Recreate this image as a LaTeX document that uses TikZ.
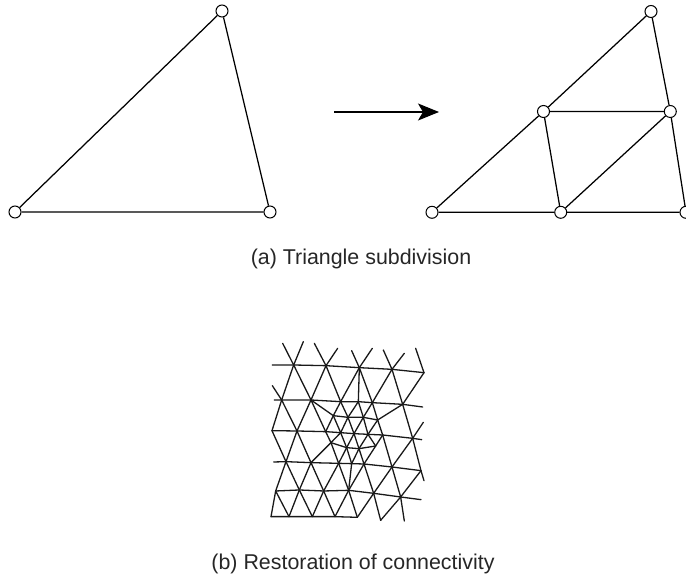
\documentclass[tikz,border=0pt]{standalone}
\usepackage{fontspec}
\setmainfont{Liberation Sans}
\usetikzlibrary{arrows.meta}
\tikzset{
  vtx/.style={circle,draw=black,fill=white,line width=1pt,minimum size=12pt,inner sep=0pt},
  triedge/.style={draw=black,line width=1.25pt},
  meshline/.style={draw=black!90,line width=1.3pt,line cap=round,line join=round},
  captext/.style={font=\fontsize{21.4pt}{24pt}\selectfont,text=black!85,inner sep=0pt},
}
\begin{document}
\begin{tikzpicture}[x=1pt,y=-1pt]
\useasboundingbox (0,0) rectangle (686,575);
% left triangle
\node[vtx] (lt) at (222,11) {};
\node[vtx] (ll) at (15,212) {};
\node[vtx] (lr) at (270,212) {};
\draw[triedge] (lt)--(ll) (ll)--(lr) (lr)--(lt);
% arrow
\coordinate (as) at (334,112);
\coordinate (ae) at (439,112);
\draw[draw=black,line width=1.05pt,-{Stealth[length=21pt,width=17pt,inset=5pt]}] (as)--(ae);
% right triangle
\node[vtx] (rt) at (651,11.5) {};
\node[vtx] (rml) at (543.5,111.5) {};
\node[vtx] (rmr) at (670.3,111.5) {};
\node[vtx] (rl) at (432,212.3) {};
\node[vtx] (rm) at (560.7,212.3) {};
\node[vtx] (rr) at (686,212.3) {};
\draw[triedge] (rt)--(rml) (rml)--(rl) (rl)--(rm) (rm)--(rr) (rr)--(rmr) (rmr)--(rt)
  (rml)--(rmr) (rml)--(rm) (rm)--(rmr);
\node[captext] (capa) at (361,258.5) {(a) Triangle subdivision};
\node[captext] (capb) at (353,564) {(b) Restoration of connectivity};
% mesh
\begin{scope}[shift={(260,335)},x=0.3333pt,y=-0.3333pt]
\foreach \n/\x/\y in {
 ta/68/25,tb/130/20,tc/163/25,td/233/40,te/275/47,tf/337/40,tg/370/45,th/433/55,ti/467/40,
 al/37/90,a1/101/90,a2/198/92,a3/298/98,a4/396/103,a5/492/113,
 bs/37/152,bl/43/195,b1/65/195,b2/153/195,b3/242/200,b4/295/200,b5/337/203,b6/428/208,br/488/216,
 c1/220/242,c2/264/247,c3/310/247,c4/353/255,
 ds/490/262,d0/36/287,d1/111/288,d2/197/290,d3/242/293,d4/282/296,d5/324/298,d6/368/300,d7/458/310,dr/485/314,
 e1/213/323,e2/260/338,e3/297/341,e4/347/333,
 fl/41/381,f1/78/380,f2/153/383,f3/236/385,f4/275/386,f5/312/387,f6/396/396,f7/483/407,fe/492/437,
 g0/47/468,g1/118/465,g2/191/468,g3/266/466,g4/341/475,g5/422/486,gr/483/494,
 h0/33/545,h1/87/545,h2/157/545,h3/225/545,h4/292/547,h5/362/556,h6/433/558}
 {\coordinate (\n) at (\x,\y);}
\draw[meshline]
 (al)--(a1)--(a2)--(a3)--(a4)--(a5)
 (bl)--(b1)--(b2)--(b3)--(b4)--(b5)--(b6)--(br)
 (c1)--(c2)--(c3)--(c4)
 (d0)--(d1)--(d2)--(d3)--(d4)--(d5)--(d6)--(d7)--(dr)
 (e1)--(e2)--(e3)--(e4)
 (fl)--(f1)--(f2)--(f3)--(f4)--(f5)--(f6)--(f7)
 (g0)--(g1)--(g2)--(g3)--(g4)--(g5)--(gr)
 (h0)--(h1)--(h2)--(h3)--(h4);
\foreach \p/\q in {ta/a1,tb/a1,tc/a2,td/a2,te/a3,tf/a3,tg/a4,th/a4,ti/a5,
 a1/b1,a1/b2,a2/b2,a2/b3,a3/b3,a3/b4,a3/b5,a4/b5,a4/b6,a5/b6,
 bs/b1,b1/d0,b1/d1,b2/d1,b2/d2,b2/c1,b3/c1,b3/c2,b4/c2,b4/c3,b5/c3,b5/c4,b6/c4,b6/d7,
 c1/d2,c1/d3,c2/d3,c2/d4,c3/d4,c3/d5,c4/d5,c4/d6,ds/d7,
 d0/f1,d1/f1,d1/f2,d2/e1,d3/e1,d3/e2,d4/e2,d4/e3,d5/e3,d5/e4,d6/e4,d6/f6,d7/f6,d7/f7,f7/fe,
 e1/f2,e1/f3,e2/f3,e2/f4,e3/f4,e3/f5,e4/f5,
 f1/g0,f1/g1,f2/g1,f2/g2,f3/g2,f3/g3,f4/g3,f5/g3,f5/g4,f6/g4,f6/g5,f7/g5,
 g0/h0,g0/h1,g1/h1,g1/h2,g2/h2,g2/h3,g3/h3,g3/h4,g4/h4,g4/h5,g5/h5,g5/h6}
 {\draw[meshline] (\p)--(\q);}
\end{scope}
\end{tikzpicture}
\end{document}
